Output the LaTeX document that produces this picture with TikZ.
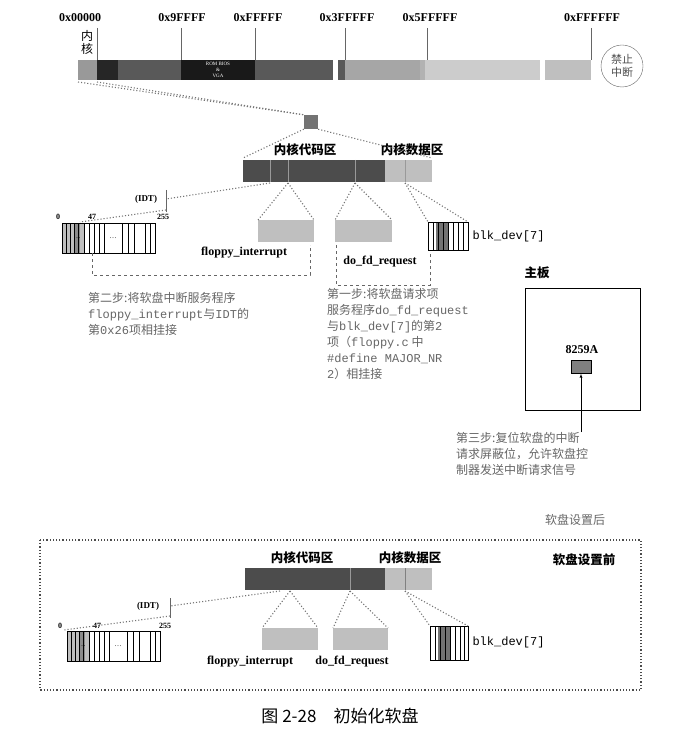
\documentclass[tikz,border=0pt]{standalone}
\usepackage{fontspec}
\setmainfont{Liberation Serif}
\setmonofont{Liberation Mono}
\newfontfamily\cjk{Noto Sans CJK SC}
\tikzset{
  dotl/.style={dotted,black!55,line width=1.1pt},
  dashl/.style={dashed,black!60},
  lbl/.style={font=\bfseries\fontsize{12}{14}\selectfont,inner sep=1pt},
  clbl/.style={font=\bfseries\fontsize{12.5}{14}\selectfont\cjk,inner sep=1pt},
  gtxt/.style={font=\fontsize{12}{16}\selectfont\cjk,text=black!60,align=left,anchor=north west,inner sep=0pt},
}
\newcommand{\idt}[4]{% x y w h
  \fill[black!25] (#1,#2) rectangle ++(22,#4);
  \fill[black!45] (#1+12,#2) rectangle ++(6,#4);
  \draw (#1,#2) rectangle ++(#3,#4);
  \foreach \i in {4,8,12,16,22,27,32,37,42,60,66,72,#3-10,#3-5} \draw (#1+\i,#2)--++(0,#4);
  \node[font=\scriptsize] at (#1+15,#2+#4/2) {\dots};
  \node[font=\scriptsize] at (#1+51,#2+#4/2) {\dots};
}
\begin{document}
\begin{tikzpicture}[x=1pt,y=-1pt]
\useasboundingbox (0,0) rectangle (678,735);
% top memory bar
\foreach \t/\x in {0x00000/80,0x9FFFF/182,0xFFFFF/258,0x3FFFFF/347,0x5FFFFF/430,0xFFFFFF/592}
  \node[lbl] at (\x,18) {\t};
\foreach \x in {97,181,255,345,427,591} \draw[black!60] (\x,28)--(\x,60);
\node[clbl,font=\fontsize{12}{13}\selectfont\cjk,align=center] (nh) at (87,42) {内\\核};
\fill[black!40] (78,60) rectangle (97,80);
\fill[black!85] (97,60) rectangle (118,80);
\fill[black!65] (118,60) rectangle (181,80);
\fill[black!90] (181,60) rectangle (255,80);
\node[text=white,font=\tiny,align=center,inner sep=0] at (218,70) {ROM BIOS\\\&\\VGA};
\fill[black!65] (255,60) rectangle (333,80);
\fill[black!65] (338,60) rectangle (345,80);
\fill[black!35] (345,60) rectangle (420,80);
\fill[black!30] (427,60) rectangle (420,80);
\fill[black!20] (425,60) rectangle (540,80);
\fill[black!25] (545,60) rectangle (591,80);
\node[draw=black!60,circle,minimum size=42pt,font=\fontsize{11}{13}\selectfont\cjk,align=center,inner sep=1pt,text=black!70] (jz) at (622,66) {禁止\\中断};
% small box
\node[fill=black!55,minimum size=14pt,inner sep=0] (sb) at (311,122) {};
\draw[dotl] (78,82)--(sb.north west);
\draw[dotl] (97,82)--(sb.north west);
% kernel bar top
\fill[black!70] (243,160) rectangle (385,182);
\fill[black!25] (385,160) rectangle (432,182);
\foreach \x in {270,288,355,405} \draw[black!40] (\x,160)--(\x,182);
\node[clbl] at (305,150) {内核代码区};
\node[clbl] at (412,150) {内核数据区};
\draw[dotl] (sb.south west)--(243,158);
\draw[dotl] (sb.south east)--(432,158);
% IDT top
\node[font=\small\bfseries] (idtl) at (146,199) {(IDT)};
\draw[black!60] (166,190)--(166,212);
\node[font=\footnotesize\bfseries] at (58,217) {0};
\node[font=\footnotesize\bfseries] at (92,217) {47};
\node[font=\footnotesize\bfseries] at (163,217) {255};
\idt{62}{223}{93}{30}
\draw[dotl] (270,183)--(166,199);
\draw[dotl] (166,210)--(80,222);
% floppy
\fill[black!25] (258,220) rectangle (314,242);
\node[lbl] at (244,253) {floppy\_interrupt};
\draw[dotl] (288,183)--(258,220); \draw[dotl] (288,183)--(314,220);
\fill[black!25] (335,220) rectangle (392,242);
\node[lbl] at (380,262) {do\_fd\_request};
\draw[dotl] (355,183)--(335,220); \draw[dotl] (355,183)--(392,220);
% blk_dev
\fill[black!55] (436,222) rectangle (448,250);
\draw (428,222) rectangle (468,250);
\foreach \x in {433,438,443,448,453,458,463} \draw (\x,222)--(\x,250);
\node[font=\fontsize{12}{14}\selectfont\ttfamily,anchor=west] at (469,236) {blk\_dev[7]};
\draw[dotl] (405,183)--(428,222); \draw[dotl] (405,183)--(468,222);
% dashed connections
\draw[dashl] (92,253)--(92,275)--(310,275)--(310,245);
\draw[dashl] (336,245)--(336,285)--(430,285)--(430,252);
\node[gtxt] at (88,292) {第二步:将软盘中断服务程序\\\texttt{floppy\_interrupt}与\texttt{IDT}的\\第\texttt{0x26}项相挂接};
\node[gtxt] at (327,288) {第一步:将软盘请求项\\服务程序\texttt{do\_fd\_request}\\与\texttt{blk\_dev[7]}的第\texttt{2}\\项（\texttt{floppy.c} 中\\\texttt{\#define MAJOR\_NR}\\\texttt{2}）相挂接};
% mainboard
\node[clbl] at (537,273) {主板};
\draw (525,288) rectangle (640,410);
\node[lbl] at (582,350) {8259A};
\node[draw,fill=black!50,minimum width=20pt,minimum height=13pt,inner sep=0] (pic) at (581,367) {};
\draw[-latex] (581,432)--(pic.south);
\node[gtxt] at (456,432) {第三步:复位软盘的中断\\请求屏蔽位，允许软盘控\\制器发送中断请求信号};
\node[font=\fontsize{12}{14}\selectfont\cjk,text=black!60] at (575,520) {软盘设置后};
% bottom frame
\draw[dotted,line width=1.2pt,black!70] (40,540) rectangle (641,690);
\node[clbl] at (584,560) {软盘设置前};
\fill[black!70] (245,568) rectangle (385,590);
\fill[black!25] (385,568) rectangle (432,590);
\draw[black!40] (350,568)--(350,590); \draw[black!50] (405,568)--(405,590);
\node[clbl] at (302,558) {内核代码区};
\node[clbl] at (410,558) {内核数据区};
\node[font=\small\bfseries] at (148,606) {(IDT)};
\draw[black!60] (170,598)--(170,618);
\node[font=\footnotesize\bfseries] at (60,626) {0};
\node[font=\footnotesize\bfseries] at (97,626) {47};
\node[font=\footnotesize\bfseries] at (165,626) {255};
\idt{67}{631}{93}{30}
\draw[dotl] (280,591)--(170,606);
\draw[dotl] (170,616)--(64,630);
\fill[black!25] (262,628) rectangle (318,650);
\fill[black!25] (333,628) rectangle (388,650);
\node[lbl] at (250,662) {floppy\_interrupt};
\node[lbl] at (352,662) {do\_fd\_request};
\draw[dotl] (290,591)--(262,628); \draw[dotl] (290,591)--(318,628);
\draw[dotl] (350,591)--(333,628); \draw[dotl] (350,591)--(388,628);
\fill[black!55] (438,626) rectangle (450,660);
\draw (430,626) rectangle (468,660);
\foreach \x in {435,440,445,450,455,460,464} \draw (\x,626)--(\x,660);
\node[font=\fontsize{12}{14}\selectfont\ttfamily,anchor=west] at (469,642) {blk\_dev[7]};
\draw[dotl] (405,591)--(430,626); \draw[dotl] (405,591)--(468,626);
\node[font=\fontsize{17}{20}\selectfont\cjk] at (340,716) {图 2-28\quad 初始化软盘};
\end{tikzpicture}
\end{document}
